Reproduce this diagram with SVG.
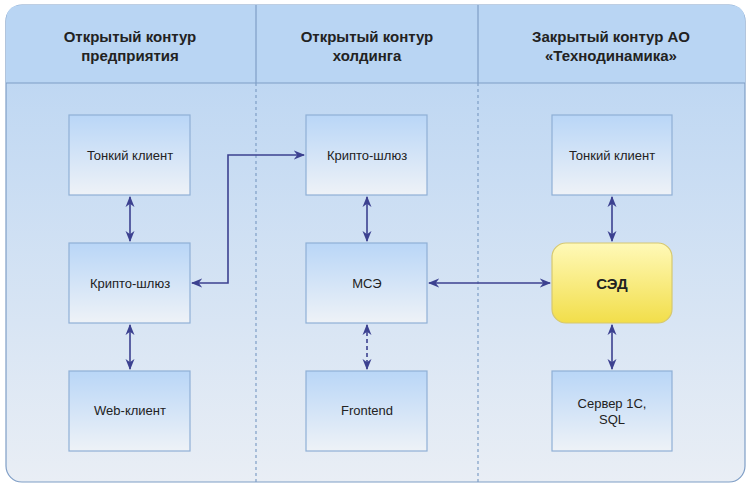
<svg xmlns="http://www.w3.org/2000/svg" width="750" height="487" viewBox="0 0 750 487">
<defs>
<linearGradient id="bg" x1="0" y1="0" x2="0" y2="1"><stop offset="0" stop-color="#b7d3f2"/><stop offset="1" stop-color="#e9eef5"/></linearGradient>
<linearGradient id="nb" x1="0" y1="0" x2="0" y2="1"><stop offset="0" stop-color="#b9d6f7"/><stop offset="1" stop-color="#eef2f7"/></linearGradient>
<linearGradient id="ny" x1="0" y1="0" x2="0" y2="1"><stop offset="0" stop-color="#fff9b8"/><stop offset="1" stop-color="#f2de4a"/></linearGradient>
<marker id="a" viewBox="0 0 10 10" refX="9" refY="5" markerWidth="7" markerHeight="7" orient="auto-start-reverse"><path d="M0,1 L10,5 L0,9 L3,5 z" fill="#3c4190"/></marker>
</defs>
<style>
.n{fill:url(#nb);stroke:#8fb0d6;stroke-width:1.2}
.t{font-family:"Liberation Sans",Arial,sans-serif;font-size:13px;fill:#222;text-anchor:middle}
.h{font-family:"Liberation Sans",Arial,sans-serif;font-size:15px;font-weight:bold;fill:#222;text-anchor:middle}
.c{fill:none;stroke:#3c4190;stroke-width:1.6;marker-start:url(#a);marker-end:url(#a)}
</style>
<rect x="6" y="5" width="739" height="477" rx="16" fill="url(#bg)" stroke="#7f9ec6" stroke-width="1.2"/>
<path d="M6,21 Q6,5 22,5 L729,5 Q745,5 745,21 L745,83 L6,83 Z" fill="#b9d5f3"/>
<g stroke="#7f9ec6" stroke-width="1.2">
<line x1="6" y1="83" x2="745" y2="83"/>
<line x1="256" y1="5" x2="256" y2="83"/>
<line x1="478" y1="5" x2="478" y2="83"/>
<line x1="256" y1="83" x2="256" y2="482" stroke-dasharray="3,3"/>
<line x1="478" y1="83" x2="478" y2="482" stroke-dasharray="3,3"/>
</g>
<text class="h" x="130" y="42">Открытый контур</text><text class="h" x="130" y="61">предприятия</text>
<text class="h" x="367" y="42">Открытый контур</text><text class="h" x="367" y="61">холдинга</text>
<text class="h" x="611" y="42">Закрытый контур АО</text><text class="h" x="611" y="61">«Технодинамика»</text>
<g id="n1"><rect class="n" x="69" y="115" width="121" height="80"/><text class="t" x="130" y="160">Тонкий клиент</text></g>
<g id="n2"><rect class="n" x="69" y="243" width="121" height="80"/><text class="t" x="130" y="288">Крипто-шлюз</text></g>
<g id="n3"><rect class="n" x="69" y="371" width="121" height="80"/><text class="t" x="130" y="415">Web-клиент</text></g>
<g id="n4"><rect class="n" x="306" y="115" width="121" height="80"/><text class="t" x="367" y="160">Крипто-шлюз</text></g>
<g id="n5"><rect class="n" x="306" y="243" width="121" height="80"/><text class="t" x="367" y="288">МСЭ</text></g>
<g id="n6"><rect class="n" x="306" y="371" width="121" height="80"/><text class="t" x="367" y="415">Frontend</text></g>
<g id="n7"><rect class="n" x="552" y="115" width="120" height="80"/><text class="t" x="612" y="160">Тонкий клиент</text></g>
<g id="n8"><rect x="552" y="243" width="120" height="80" rx="14" fill="url(#ny)" stroke="#d6c870" stroke-width="1.2"/><text class="t" x="612" y="289" style="font-weight:bold;font-size:15px">СЭД</text></g>
<g id="n9"><rect class="n" x="552" y="371" width="120" height="80"/><text class="t" x="612" y="408">Сервер 1С,</text><text class="t" x="612" y="424">SQL</text></g>
<g id="connectors">
<line class="c" x1="130" y1="197" x2="130" y2="241"/>
<line class="c" x1="130" y1="325" x2="130" y2="369"/>
<path class="c" d="M192,283 L228,283 L228,155 L304,155"/>
<line class="c" x1="367" y1="197" x2="367" y2="241"/>
<line class="c" x1="367" y1="325" x2="367" y2="369" stroke-dasharray="4,3"/>
<line class="c" x1="429" y1="283" x2="550" y2="283"/>
<line class="c" x1="612" y1="197" x2="612" y2="241"/>
<line class="c" x1="612" y1="325" x2="612" y2="369"/>
</g>
</svg>
